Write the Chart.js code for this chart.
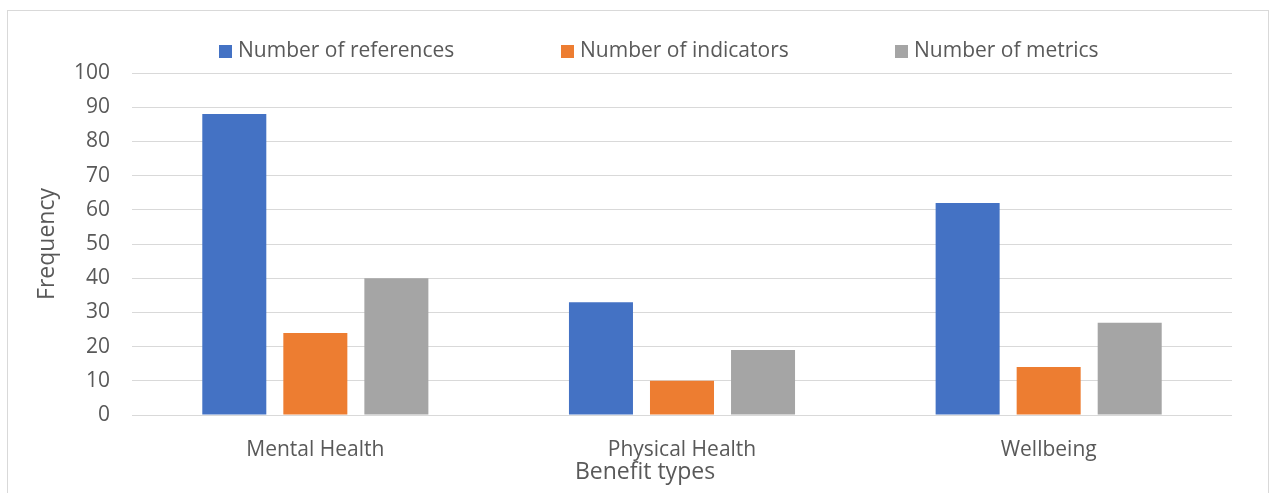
<!DOCTYPE html>
<html>
<head>
<meta charset="utf-8">
<script src="https://cdn.jsdelivr.net/npm/chart.js@4/dist/chart.umd.min.js"></script>
<style>
  html, body { margin: 0; padding: 0; background: #fff; }
  #wrap { position: relative; width: 1271px; height: 493px; overflow: hidden; }
  #frame { position: absolute; left: 7px; top: 10px; width: 1262px; height: 500px; border: 1px solid #d9d9d9; box-sizing: border-box; }
  canvas { position: absolute; left: 0; top: 0; }
</style>
</head>
<body>
<div id="wrap">
  <div id="frame"></div>
  <canvas id="c" width="1271" height="493"></canvas>
</div>
<script>
const categories = ["Mental Health", "Physical Health", "Wellbeing"];
const seriesNames = ["Number of references", "Number of indicators", "Number of metrics"];
const references = [88, 33, 62];
const indicators = [24, 10, 14];
const metrics = [40, 19, 27];
const colors = ["#4472C4", "#ED7D31", "#A5A5A5"];
const yTitle = "Frequency";
const xTitle = "Benefit types";

const FONT = "'Open Sans', sans-serif";
const TXT = "#595959";

// Legend + x-axis title drawn with the chart's own data/labels
const excelLegend = {
  id: "excelLegend",
  afterDraw(chart) {
    const ctx = chart.ctx;
    ctx.save();
    ctx.font = "21px " + FONT;
    ctx.fillStyle = TXT;
    ctx.textBaseline = "middle";
    const box = 13, gapBox = 6;
    const items = chart.data.datasets.map(d => ({ text: d.label, color: d.backgroundColor, w: ctx.measureText(d.label).width }));
    const boxX = [219, 561, 895];
    const yc = 51;
    items.forEach((it, i) => {
      const x = boxX[i];
      ctx.fillStyle = it.color;
      ctx.fillRect(x, yc - 6, box, box);
      ctx.fillStyle = TXT;
      ctx.textAlign = "left";
      ctx.fillText(it.text, x + box + gapBox, yc);
    });
    ctx.font = "23px " + FONT;
    ctx.textAlign = "center";
    ctx.fillText(xTitle, 645, 472);
    ctx.restore();
  }
};

new Chart(document.getElementById("c"), {
  type: "bar",
  data: {
    labels: categories,
    datasets: [references, indicators, metrics].map((d, i) => ({
      label: seriesNames[i],
      data: d,
      backgroundColor: colors[i],
      borderWidth: 0,
      categoryPercentage: 0.663,
      barPercentage: 0.79
    }))
  },
  plugins: [excelLegend],
  options: {
    responsive: false,
    animation: false,
    devicePixelRatio: 1,
    layout: { padding: { left: 34, right: 39, top: 73, bottom: 0 } },
    plugins: {
      legend: { display: false },
      tooltip: { enabled: false }
    },
    scales: {
      x: {
        grid: { display: false },
        border: { display: false },
        ticks: { font: { family: FONT, size: 21 }, color: TXT, padding: 14 },
        afterFit: s => { s.height = 493 - 415; }
      },
      y: {
        min: 0, max: 100,
        ticks: { stepSize: 10, font: { family: FONT, size: 21 }, color: TXT, padding: 22 },
        grid: { color: "#d9d9d9", lineWidth: 1, drawTicks: false },
        border: { display: false },
        title: { display: true, text: yTitle, font: { family: FONT, size: 23 }, color: TXT, padding: 0 },
        afterFit: s => { s.width = 132 - 34; }
      }
    }
  }
});
</script>
</body>
</html>
